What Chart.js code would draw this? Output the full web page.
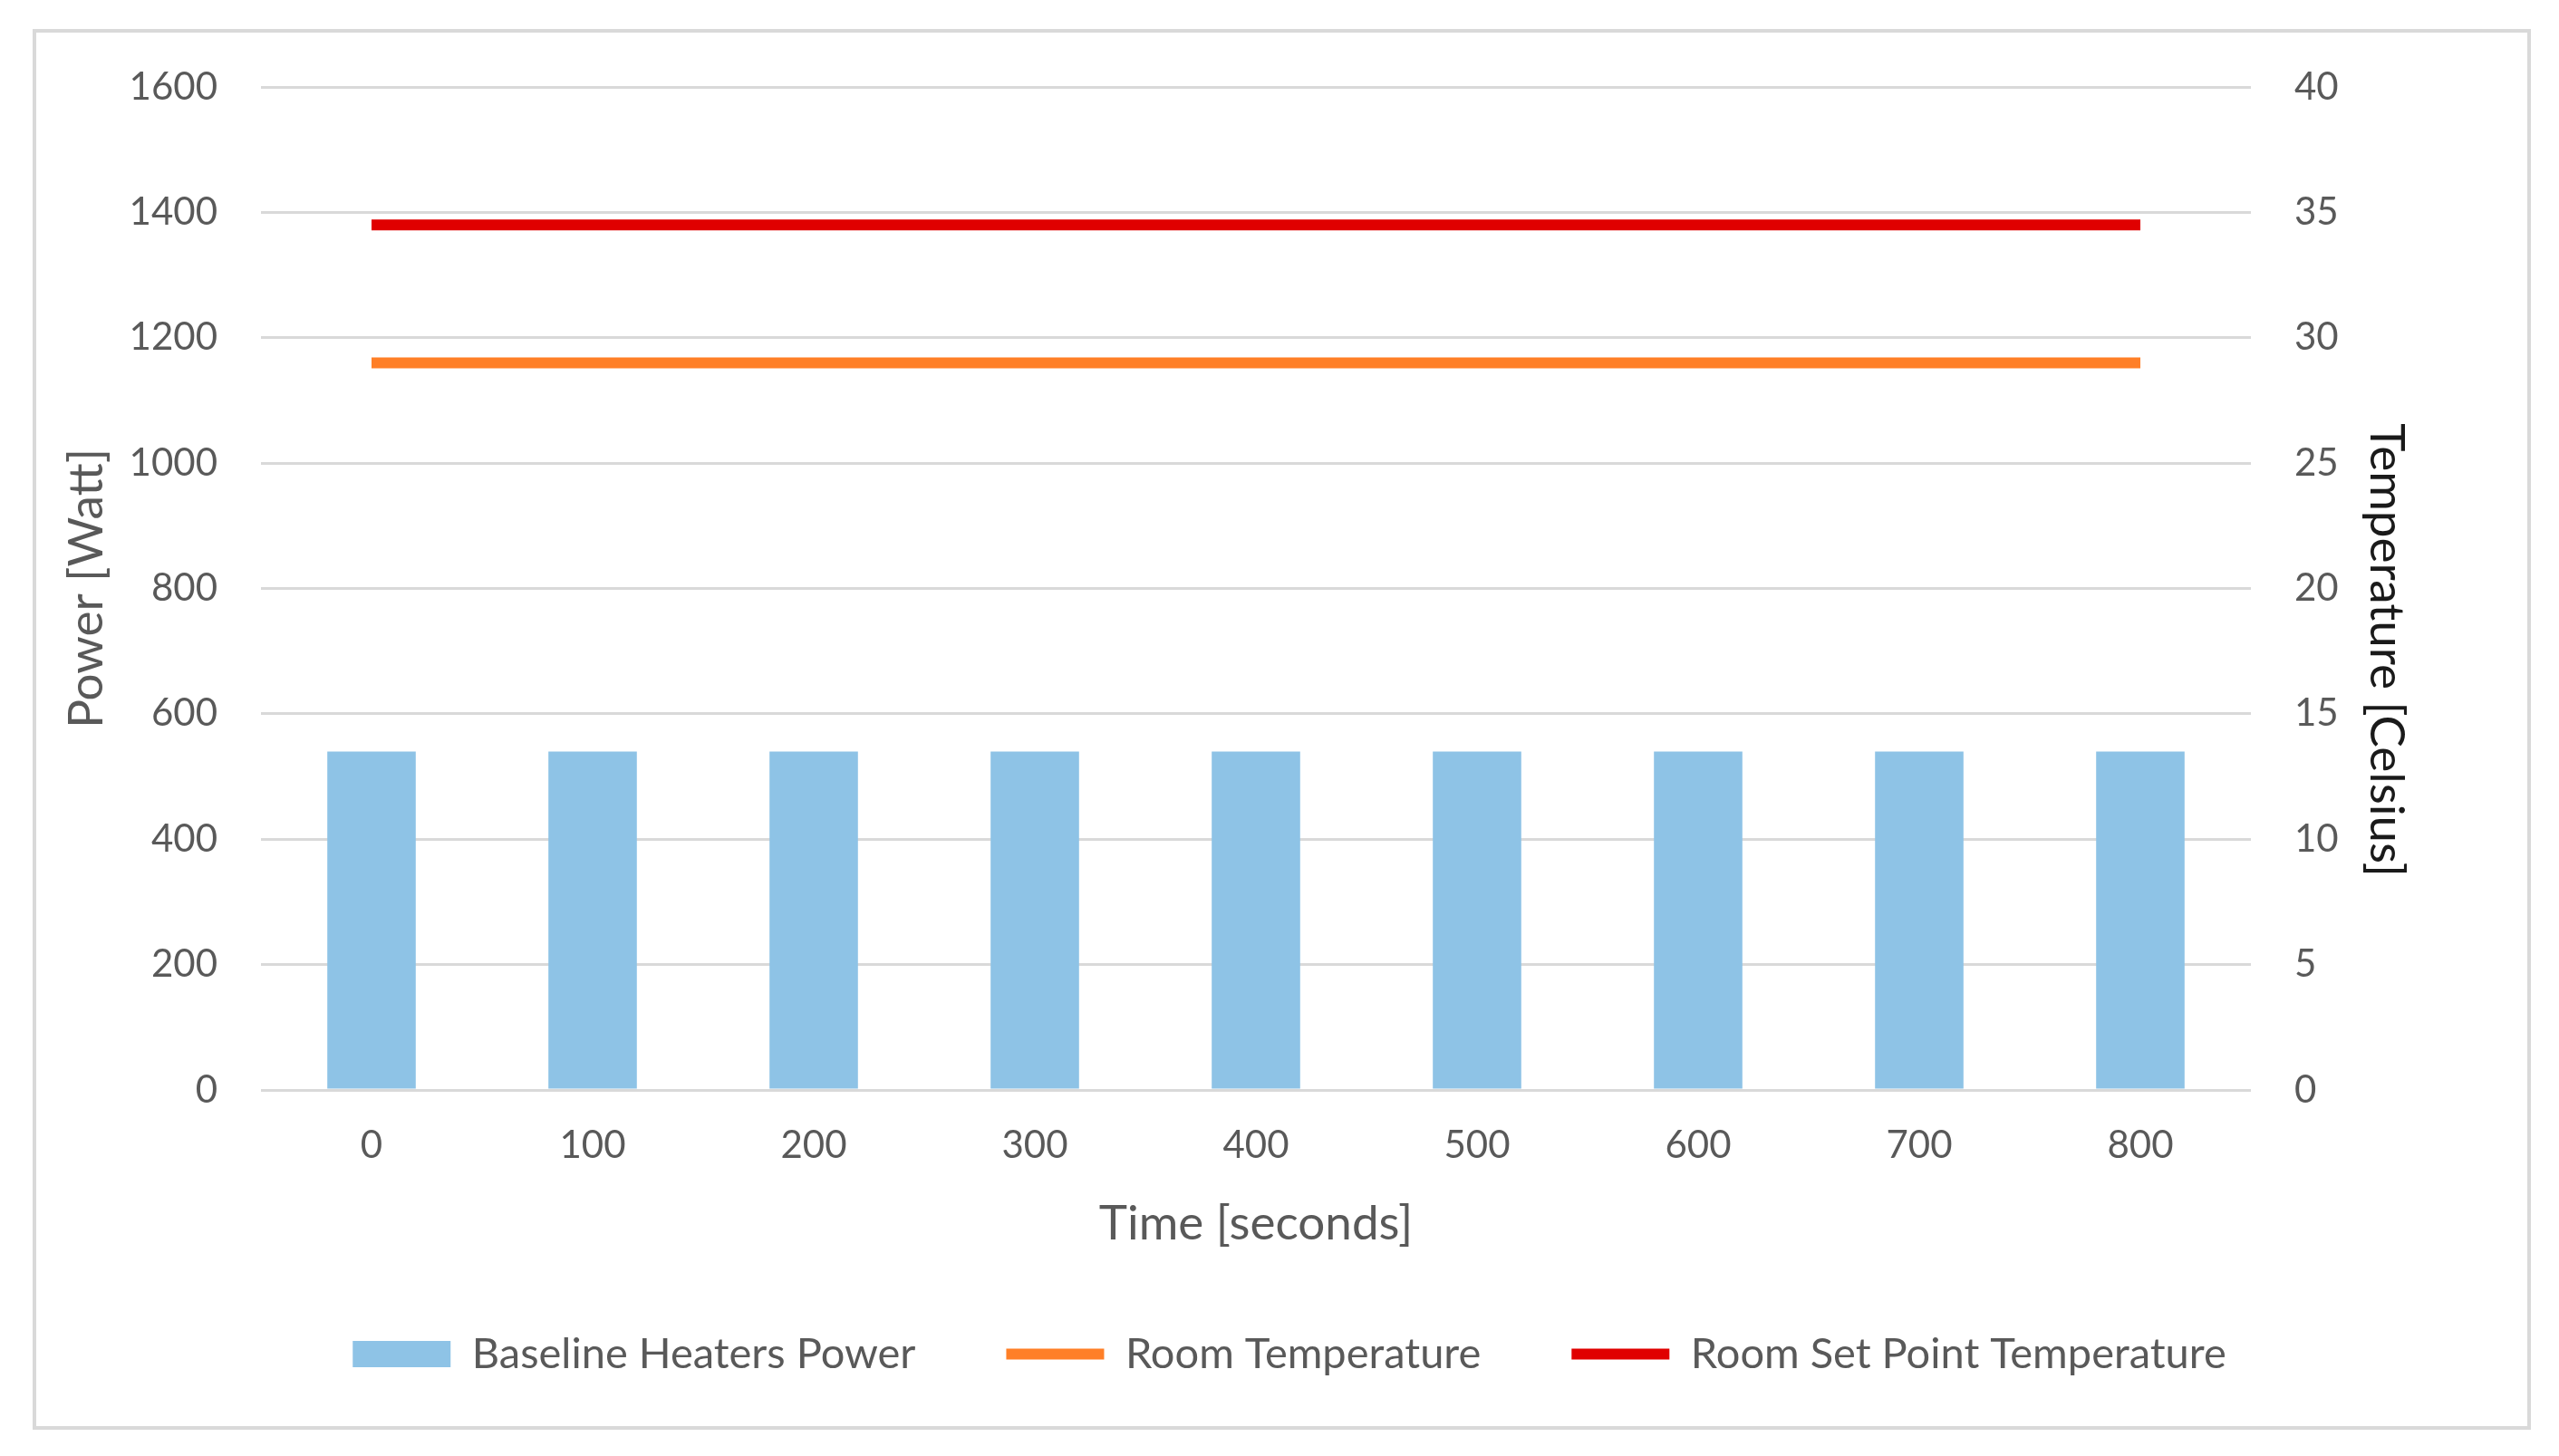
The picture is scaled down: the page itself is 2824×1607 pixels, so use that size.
<!DOCTYPE html>
<html>
<head>
<meta charset="utf-8">
<script src="https://cdn.jsdelivr.net/npm/chart.js@4/dist/chart.umd.min.js"></script>
<style>
  html, body { margin: 0; padding: 0; background: #ffffff; }
  #wrap { position: absolute; left: 0; top: 0; width: 2824px; height: 1607px; }
  #frame { position: absolute; left: 36px; top: 32px; width: 2757px; height: 1546px;
           border: 4px solid #d9d9d9; box-sizing: border-box; pointer-events: none; }
</style>
</head>
<body>
<div id="wrap"><canvas id="c"></canvas></div>
<div id="frame"></div>
<script>
const timeLabels = ['0', '100', '200', '300', '400', '500', '600', '700', '800'];
const heaterPower = [540, 540, 540, 540, 540, 540, 540, 540, 540];
const roomTemperature = [29, 29, 29, 29, 29, 29, 29, 29, 29];
const setPointTemperature = [34.5, 34.5, 34.5, 34.5, 34.5, 34.5, 34.5, 34.5, 34.5];
const seriesNames = ['Baseline Heaters Power', 'Room Temperature', 'Room Set Point Temperature'];
const powerTickRange = [0, 1600, 200];
const tempTickRange = [0, 40, 5];

const FONT = 'Lato, "Open Sans", sans-serif';
const GREY = '#595959';

// shift the right axis title down a little, as in the original
function shiftTitle(scale, dy) {
  const proto = Object.getPrototypeOf(scale);
  scale.drawTitle = function () {
    const t = this.top, b = this.bottom;
    this.top = t + dy; this.bottom = b + dy;
    proto.drawTitle.call(this);
    this.top = t; this.bottom = b;
  };
}

new Chart(document.getElementById('c'), {
  type: 'bar',
  data: {
    labels: timeLabels,
    datasets: [
      {
        label: seriesNames[0],
        data: heaterPower,
        backgroundColor: '#8ec3e6',
        borderWidth: 0,
        barPercentage: 0.5,
        categoryPercentage: 0.8,
        yAxisID: 'y',
        pointStyle: 'rect'
      },
      {
        type: 'line',
        label: seriesNames[1],
        data: roomTemperature,
        borderColor: '#ff7f27',
        backgroundColor: '#ff7f27',
        borderWidth: 12,
        pointRadius: 0,
        pointStyle: 'line',
        yAxisID: 'y1'
      },
      {
        type: 'line',
        label: seriesNames[2],
        data: setPointTemperature,
        borderColor: '#e00000',
        backgroundColor: '#e00000',
        borderWidth: 12,
        pointRadius: 0,
        pointStyle: 'line',
        yAxisID: 'y1'
      }
    ]
  },
  options: {
    responsive: true,
    maintainAspectRatio: false,
    animation: false,
    locale: 'en-US',
    layout: { padding: { left: 60, top: 96, right: 38, bottom: 79 } },
    plugins: {
      tooltip: { enabled: false },
      legend: {
        position: 'bottom',
        labels: {
          usePointStyle: true,
          pointStyleWidth: 108,
          boxHeight: 29,
          padding: 100,
          color: GREY,
          font: { family: FONT, size: 47 }
        }
      }
    },
    scales: {
      x: {
        grid: { display: false, drawTicks: false },
        border: { display: false },
        ticks: { color: GREY, padding: 36, font: { family: FONT, size: 42 } },
        title: { display: true, text: 'Time [seconds]', color: GREY,
                 padding: { top: 4, bottom: -12 }, font: { family: FONT, size: 53 } },
        afterFit: (s) => { s.height = 168; }
      },
      y: {
        position: 'left',
        min: powerTickRange[0],
        max: powerTickRange[1],
        ticks: { stepSize: powerTickRange[2], color: GREY, padding: 48,
                 format: { useGrouping: false }, font: { family: FONT, size: 42 } },
        grid: { color: '#d9d9d9', lineWidth: 3, drawTicks: false },
        border: { display: false },
        title: { display: true, text: 'Power [Watt]', color: GREY,
                 padding: { top: 4, bottom: 4 }, font: { family: FONT, size: 53 } },
        afterFit: (s) => { s.width = 228; }
      },
      y1: {
        position: 'right',
        min: tempTickRange[0],
        max: tempTickRange[1],
        ticks: { stepSize: tempTickRange[2], color: GREY, padding: 48, font: { family: FONT, size: 42 } },
        grid: { display: false, drawOnChartArea: false, drawTicks: false },
        border: { display: false },
        title: { display: true, text: 'Temperature [Celsius]', color: '#1a1a1a',
                 padding: { top: 121, bottom: 4 }, font: { family: FONT, size: 53 } },
        afterFit: (s) => { s.width = 302; shiftTitle(s, 68); }
      }
    }
  }
});
</script>
</body>
</html>
